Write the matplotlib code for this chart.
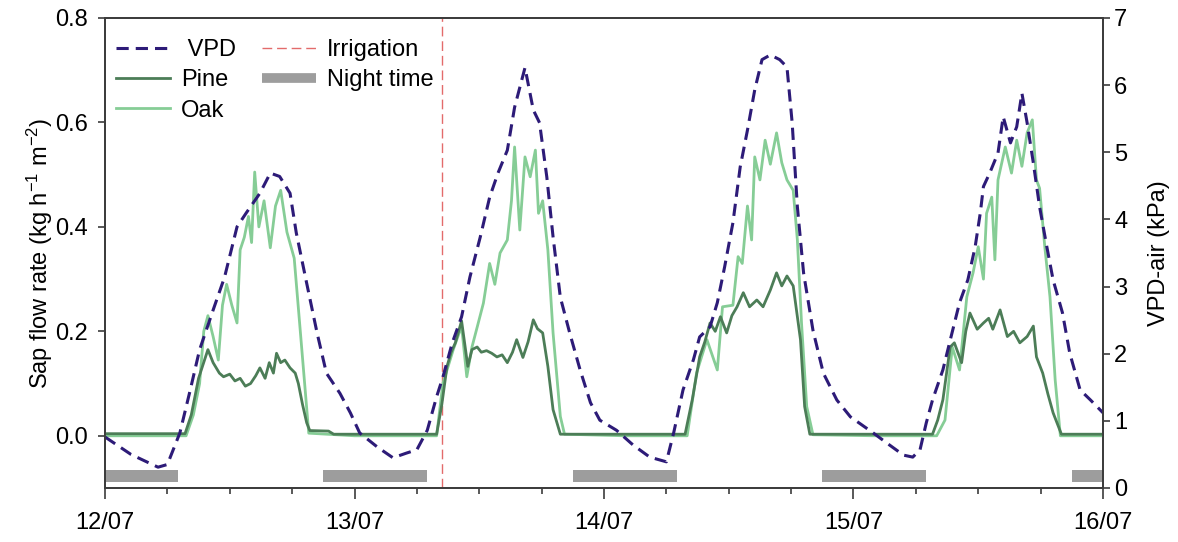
import matplotlib.pyplot as plt
from matplotlib.lines import Line2D

# hours since 12/07 00:00
day_hours = [0, 24, 48, 72, 96]
day_labels = ["12/07", "13/07", "14/07", "15/07", "16/07"]

pine_hours = [
    0, 4, 7.7, 8.3, 9.0, 9.9, 10.4, 11.0, 11.4, 12.0, 12.5, 13.0, 13.5, 14.0,
    14.5, 14.9, 15.4, 15.8, 16.2, 16.5, 16.9, 17.3, 17.8, 18.3, 18.6, 19.0, 19.4, 19.7,
    21.5, 22.0, 27, 31.9, 32.4, 32.9, 33.3, 33.7, 34.3, 34.9, 35.3, 35.8, 36.2, 36.7,
    37.2, 37.7, 38.2, 38.7, 39.2, 39.6, 40.2, 40.7, 41.2, 41.6, 42.1, 42.6, 43.1, 43.8,
    50, 55.8, 56.5, 57.2, 57.7, 58.2, 58.7, 59.2, 59.8, 60.3, 60.8, 61.4,
    62.0, 62.7, 63.3, 64.0, 64.6, 65.1, 65.6, 66.2, 66.9, 67.3, 67.8,
    74, 79.6, 80.1, 80.6, 81.3, 81.7, 82.4, 82.8, 83.2, 83.9, 84.5, 85.0, 85.4,
    86.1, 86.8, 87.4, 88.0, 88.7, 89.3, 89.6, 90.2, 90.7, 91.2, 92.0, 96,
]
pine_flow = [
    0.004, 0.004, 0.004, 0.04, 0.11, 0.165, 0.14, 0.12, 0.113, 0.118, 0.105, 0.11, 0.095, 0.10,
    0.115, 0.13, 0.11, 0.14, 0.12, 0.158, 0.14, 0.145, 0.13, 0.12, 0.10, 0.06, 0.025, 0.01,
    0.009, 0.003, 0.003, 0.003, 0.06, 0.133, 0.16, 0.178, 0.22, 0.133, 0.165, 0.17, 0.16, 0.163,
    0.158, 0.151, 0.155, 0.14, 0.16, 0.184, 0.15, 0.18, 0.222, 0.205, 0.197, 0.133, 0.05, 0.003,
    0.003, 0.003, 0.07, 0.151, 0.18, 0.216, 0.20, 0.228, 0.197, 0.23, 0.247, 0.274,
    0.247, 0.26, 0.247, 0.279, 0.312, 0.287, 0.306, 0.287, 0.184, 0.056, 0.003,
    0.003, 0.003, 0.03, 0.069, 0.17, 0.178, 0.14, 0.20, 0.235, 0.204, 0.216, 0.225, 0.204,
    0.241, 0.19, 0.20, 0.178, 0.19, 0.21, 0.151, 0.12, 0.08, 0.044, 0.003, 0.003,
]

oak_hours = [
    0, 7.8, 8.5, 9.1, 9.5, 9.9, 10.4, 10.9, 11.3, 11.7, 12.2, 12.7, 13.0,
    13.4, 13.8, 14.1, 14.4, 14.8, 15.3, 15.9, 16.4, 16.9, 17.5, 18.2, 18.8, 19.6,
    24, 31.9, 32.5, 33.5, 34.3, 34.8, 35.3, 35.8, 36.4, 37.0, 37.5, 38.0, 38.7,
    39.1, 39.4, 39.9, 40.4, 40.9, 41.4, 41.7, 42.1, 42.6, 43.1, 43.8, 44.2,
    50, 56.0, 56.9, 57.9, 58.9, 59.4, 60.4, 60.9, 61.3, 61.8, 62.2, 62.5,
    63.0, 63.5, 64.0, 64.6, 65.1, 65.6, 66.2, 66.6, 67.0, 67.5, 68.1,
    74, 80.0, 80.8, 81.5, 82.2, 82.9, 83.5, 84.0, 84.5, 84.8, 85.3, 85.6, 85.9,
    86.6, 87.2, 87.7, 88.2, 88.7, 89.2, 89.6, 89.9, 90.4, 90.9, 91.4, 91.9, 96,
]
oak_flow = [
    0.0, 0.0, 0.04, 0.10, 0.20, 0.23, 0.19, 0.145, 0.25, 0.29, 0.25, 0.216, 0.356,
    0.38, 0.42, 0.37, 0.505, 0.40, 0.45, 0.36, 0.44, 0.47, 0.39, 0.34, 0.197, 0.005,
    0.0, 0.0, 0.10, 0.165, 0.21, 0.113, 0.17, 0.208, 0.254, 0.33, 0.29, 0.35, 0.375,
    0.45, 0.553, 0.394, 0.534, 0.496, 0.547, 0.426, 0.45, 0.356, 0.197, 0.037, 0.003,
    0.0, 0.0, 0.12, 0.184, 0.126, 0.247, 0.25, 0.343, 0.33, 0.44, 0.375, 0.534,
    0.49, 0.566, 0.52, 0.58, 0.523, 0.49, 0.47, 0.375, 0.216, 0.056, 0.002,
    0.0, 0.0, 0.03, 0.17, 0.126, 0.266, 0.312, 0.362, 0.30, 0.426, 0.457, 0.337, 0.49,
    0.553, 0.503, 0.566, 0.516, 0.58, 0.605, 0.49, 0.474, 0.362, 0.266, 0.107, 0.0, 0.0,
]

vpd_hours = [
    0, 2.5, 5.1, 6.0, 7.2, 8.2, 9.1, 10.4, 11.5, 12.7, 13.6, 14.9, 15.9, 16.8,
    17.8, 18.4, 19.4, 20.4, 21.3, 22.6, 23.6,
    24.5, 26.2, 27.7, 29.0, 30.0, 31.0, 31.9, 32.5, 33.4, 34.3, 35.1, 36.1, 37.0,
    37.8, 38.7, 39.4, 40.4, 41.2, 41.8, 42.5, 43.1, 43.8, 44.7, 45.7, 46.7, 47.6,
    49.2, 50.8, 52.4, 54.0, 54.7, 55.6, 56.6, 57.2, 58.2, 58.9, 59.6, 60.4, 61.1,
    61.8, 62.5, 63.2, 64.0, 64.9, 65.6, 66.1, 66.6, 67.2, 68.1, 69.1, 70.4, 71.7,
    73.9, 75.2, 76.8, 77.7, 78.4, 79.0, 79.6, 80.6, 81.3, 82.2, 83.0, 83.7, 84.2,
    84.5, 85.1, 85.9, 86.4, 87.1, 87.7, 88.2, 88.7, 89.3, 89.9, 90.6, 91.2, 92.1,
    92.8, 93.8, 94.8, 96.0,
]
vpd_kpa = [
    0.76, 0.5, 0.31, 0.35, 0.82, 1.46, 2.06, 2.65, 3.14, 3.89, 4.10, 4.39, 4.69, 4.64,
    4.39, 3.80, 3.05, 2.31, 1.71, 1.41, 1.12,
    0.82, 0.61, 0.45, 0.52, 0.57, 0.86, 1.36, 1.65, 2.16, 2.55, 3.14, 3.74, 4.33,
    4.69, 5.03, 5.67, 6.26, 5.63, 5.44, 4.63, 3.74, 2.84, 2.31, 1.76, 1.27, 1.01,
    0.86, 0.64, 0.46, 0.39, 0.82, 1.46, 1.91, 2.25, 2.40, 2.76, 3.29, 3.95, 4.78,
    5.33, 5.93, 6.38, 6.45, 6.38, 6.27, 5.44, 4.19, 3.20, 2.35, 1.71, 1.31, 1.06,
    0.82, 0.67, 0.49, 0.46, 0.57, 0.97, 1.31, 1.76, 2.20, 2.76, 3.10, 3.59, 4.10,
    4.49, 4.69, 4.99, 5.53, 5.14, 5.38, 5.88, 5.44, 4.84, 4.19, 3.59, 3.10, 2.61,
    2.01, 1.46, 1.31, 1.12,
]

night_start = [0, 21, 45, 69, 93]
night_end = [7, 31, 55, 79, 96]
irrigation_hour = 32.4

VPD_COLOR = "#2d1b78"
PINE_COLOR = "#4c7d57"
OAK_COLOR = "#86cd96"
NIGHT_COLOR = "#9d9d9d"
IRR_COLOR = "#e36b6b"
SPINE_COLOR = "#3c3c3c"
FS = 17

plt.rcParams["font.family"] = ["Liberation Sans", "DejaVu Sans"]
plt.rcParams["mathtext.fontset"] = "custom"
plt.rcParams["mathtext.rm"] = "Liberation Sans"
plt.rcParams["mathtext.it"] = "Liberation Sans:italic"
plt.rcParams["mathtext.default"] = "regular"

fig = plt.figure(figsize=(11.78, 5.42), dpi=100)
ax = fig.add_axes([105 / 1178, 54 / 542, 998 / 1178, 470 / 542])
ax2 = ax.twinx()

# night bars and irrigation
ax.broken_barh([(s, e - s) for s, e in zip(night_start, night_end)],
               (-0.088, 0.023), facecolors=NIGHT_COLOR, edgecolor="none", zorder=1)
ax.axvline(irrigation_hour, color=IRR_COLOR, lw=1.0, ls=(0, (7, 3.5)), zorder=2)

ax.plot(oak_hours, oak_flow, color=OAK_COLOR, lw=2.0, zorder=3)
ax.plot(pine_hours, pine_flow, color=PINE_COLOR, lw=2.0, zorder=4)
ax2.plot(vpd_hours, vpd_kpa, color=VPD_COLOR, lw=2.2, ls=(0, (4, 2.3)))

ax.set_xlim(0, 96)
ax.set_ylim(-0.1, 0.8)
ax2.set_ylim(0, 7)

ax.set_xticks(day_hours)
ax.set_xticklabels(day_labels)
ax.set_xticks(range(0, 97, 6), minor=True)
ax.set_yticks([0.0, 0.2, 0.4, 0.6, 0.8])
ax.set_yticklabels(["%.1f" % v for v in [0.0, 0.2, 0.4, 0.6, 0.8]])
ax2.set_yticks(range(0, 8))

ax.tick_params(axis="x", which="major", length=8, width=1.2, pad=9,
               labelsize=FS, color=SPINE_COLOR)
ax.tick_params(axis="x", which="minor", length=4.5, width=1.2, color=SPINE_COLOR)
ax.tick_params(axis="y", length=5, width=1.2, pad=7, labelsize=FS, color=SPINE_COLOR)
ax2.tick_params(axis="y", length=5, width=1.2, pad=3, labelsize=FS, color=SPINE_COLOR)

for a in (ax, ax2):
    for sp in a.spines.values():
        sp.set_color(SPINE_COLOR)
        sp.set_linewidth(1.3)

ax.set_ylabel("Sap flow rate (kg h$^{-1}$ m$^{-2}$)", fontsize=FS)
ax.yaxis.set_label_coords(-0.050, 0.5)
ax2.set_ylabel("VPD-air (kPa)", fontsize=FS, labelpad=15)

handles = [
    Line2D([], [], color=VPD_COLOR, lw=2.2, ls=(0, (4, 2.3))),
    Line2D([], [], color=PINE_COLOR, lw=2.0),
    Line2D([], [], color=OAK_COLOR, lw=2.0),
    Line2D([], [], color=IRR_COLOR, lw=1.0, ls=(0, (7, 3.5))),
    Line2D([], [], color=NIGHT_COLOR, lw=7, solid_capstyle="butt"),
]
labels = [" VPD", "Pine", "Oak", "Irrigation", "Night time"]
ax.legend(handles, labels, ncol=2, frameon=False, fontsize=FS,
          loc="upper left", bbox_to_anchor=(0.011, 0.955), borderaxespad=0,
          borderpad=0, handlelength=2.3, handletextpad=0.45,
          columnspacing=1.1, labelspacing=0.35)

fig.savefig("out.png", dpi=100)
